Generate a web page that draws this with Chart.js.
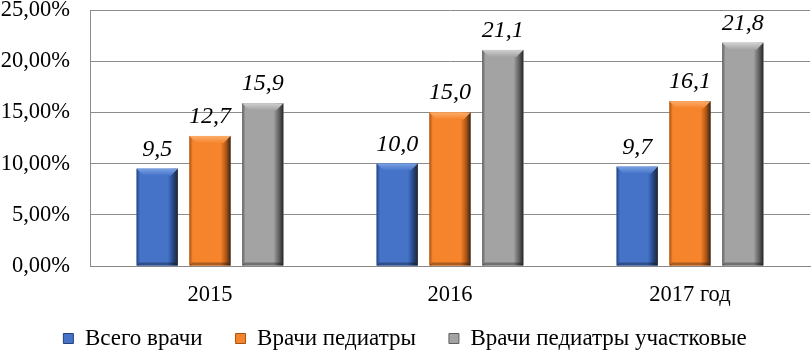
<!DOCTYPE html>
<html>
<head>
<meta charset="utf-8">
<script src="https://cdn.jsdelivr.net/npm/chart.js@4/dist/chart.umd.min.js"></script>
<style>
  html, body { margin: 0; padding: 0; background: #fff; }
  #wrap { width: 812px; height: 351px; }
</style>
</head>
<body>
<div id="wrap"><canvas id="chart"></canvas></div>
<script>
const years = ['2015', '2016', '2017 год'];
const allDoctors = [9.5, 10.0, 9.7];
const pediatricians = [12.7, 15.0, 16.1];
const districtPediatricians = [15.9, 21.1, 21.8];
const seriesNames = ['Всего врачи', 'Врачи педиатры', 'Врачи педиатры участковые'];

// base, light, dark
const palette = [
    ['#4473c8', '#7aa0e2', '#23437e'],
    ['#f6842c', '#fbae6c', '#a9520f'],
    ['#a3a3a3', '#d0d0d0', '#5e5e5e']
];

// bevelled look painted over each bar, using the bar elements' own geometry
const bevel = {
    id: 'bevel',
    afterDatasetsDraw(chart) {
        const c = chart.ctx;
        c.save();
        chart.data.datasets.forEach((ds, i) => {
            chart.getDatasetMeta(i).data.forEach(bar => {
                const l = bar.x - bar.width / 2, r = bar.x + bar.width / 2;
                const t = bar.y, b = bar.base, e = 7;
                const g = c.createLinearGradient(l, 0, r, 0);
                g.addColorStop(0, palette[i][2]);
                g.addColorStop(0.08, palette[i][0]);
                g.addColorStop(0.76, palette[i][0]);
                g.addColorStop(0.9, palette[i][2]);
                g.addColorStop(1, '#262626');
                c.fillStyle = g;
                c.fillRect(l, t, r - l, b - t);

                const g2 = c.createLinearGradient(0, t, 0, t + e);
                g2.addColorStop(0, palette[i][1]);
                g2.addColorStop(1, palette[i][0]);
                c.fillStyle = g2;
                c.beginPath();
                c.moveTo(l, t);
                c.lineTo(r, t);
                c.lineTo(r - e, t + e);
                c.lineTo(l + e, t + e);
                c.closePath();
                c.fill();

                c.fillStyle = 'rgba(0,0,0,0.3)';
                c.beginPath();
                c.moveTo(l, b);
                c.lineTo(r, b);
                c.lineTo(r - 3, b - 3);
                c.lineTo(l + 3, b - 3);
                c.closePath();
                c.fill();
            });
        });
        c.restore();
    }
};

const valueLabels = {
    id: 'valueLabels',
    afterDatasetsDraw(chart) {
        const c = chart.ctx;
        c.save();
        c.font = 'italic 24px "Liberation Serif"';
        c.fillStyle = '#000';
        c.textAlign = 'center';
        c.textBaseline = 'alphabetic';
        chart.data.datasets.forEach((ds, i) => {
            chart.getDatasetMeta(i).data.forEach((bar, j) => {
                c.fillText(ds.data[j].toFixed(1).replace('.', ','), bar.x, bar.y - 13);
            });
        });
        c.restore();
    }
};

// legend keeps wide horizontal spacing but gives the plot more height
const LEGEND_TRIM = 23;
const compactLegend = {
    id: 'compactLegend',
    beforeLayout(chart) {
        const lg = chart.legend;
        if (lg && !lg._trimmed) {
            const fit = lg.fit.bind(lg);
            lg.fit = function () { fit(); this.height -= LEGEND_TRIM; };
            lg._trimmed = true;
        }
    },
    afterLayout(chart) {
        const lg = chart.legend;
        if (lg) { lg.top -= LEGEND_TRIM; lg.height += LEGEND_TRIM; }
    }
};

const datasets = [allDoctors, pediatricians, districtPediatricians].map((vals, i) => ({
    label: seriesNames[i],
    data: vals,
    backgroundColor: palette[i][0],
    borderWidth: 0,
    barPercentage: 0.78,
    categoryPercentage: 0.66
}));

new Chart(document.getElementById('chart').getContext('2d'), {
    type: 'bar',
    data: { labels: years, datasets: datasets },
    options: {
        responsive: true,
        maintainAspectRatio: false,
        animation: false,
        layout: { padding: { top: 10, right: 2, left: 0, bottom: -9 } },
        plugins: {
            tooltip: { enabled: false },
            legend: {
                position: 'bottom',
                labels: {
                    boxWidth: 10,
                    boxHeight: 10,
                    padding: 33,
                    color: '#000',
                    font: { family: 'Liberation Serif', size: 23 },
                    generateLabels(chart) {
                        return chart.data.datasets.map((ds, i) => ({
                            text: ds.label,
                            fillStyle: palette[i][0],
                            strokeStyle: palette[i][2],
                            lineWidth: 1,
                            datasetIndex: i
                        }));
                    }
                }
            }
        },
        scales: {
            x: {
                grid: { display: false },
                border: { display: true, color: '#888' },
                ticks: { color: '#000', font: { family: 'Liberation Serif', size: 22.5 }, padding: 8 }
            },
            y: {
                min: 0,
                max: 25,
                ticks: {
                    stepSize: 5,
                    color: '#000',
                    padding: 20,
                    font: { family: 'Liberation Serif', size: 22.5 },
                    callback: v => v.toFixed(2).replace('.', ',') + '%'
                },
                grid: { color: '#8c8c8c', drawTicks: false },
                border: { display: true, color: '#8c8c8c' },
                afterFit(scale) {
                    scale.width = 90;
                    scale.paddingTop = 0;
                    scale.paddingBottom = 0;
                }
            }
        }
    },
    plugins: [bevel, valueLabels, compactLegend]
});
</script>
</body>
</html>
